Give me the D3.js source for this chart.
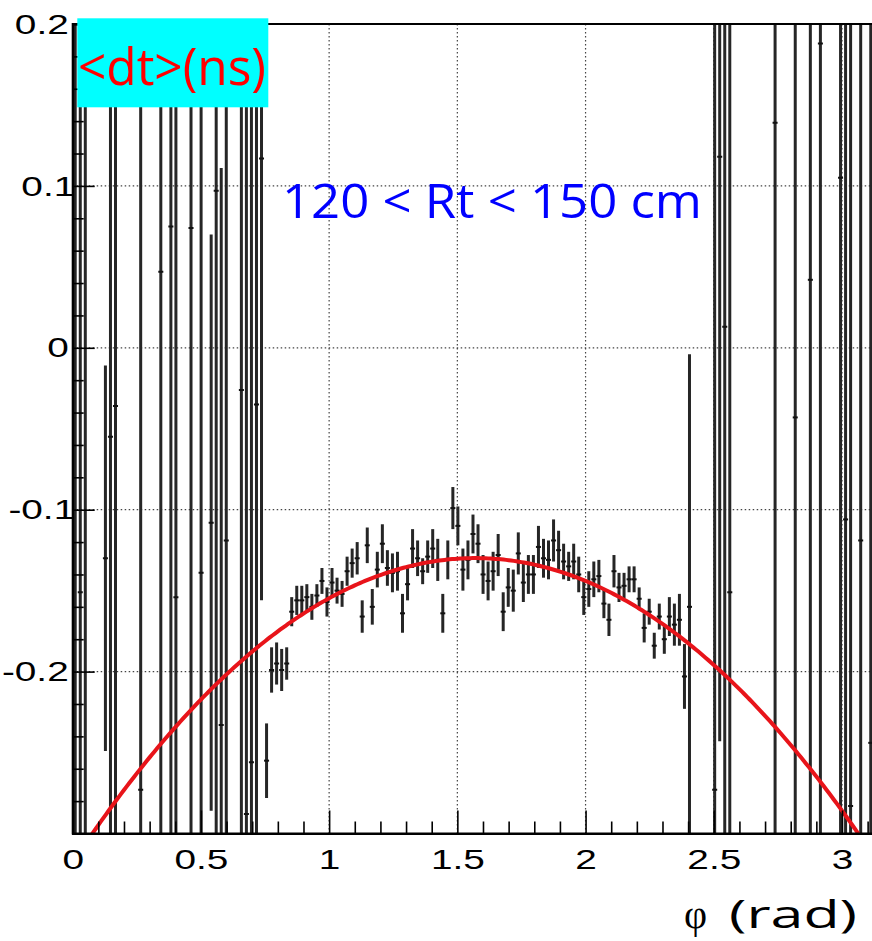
<!DOCTYPE html>
<html>
<head>
<meta charset="utf-8">
<script src="https://cdn.jsdelivr.net/npm/d3@7"></script>
<style>
  body { margin: 0; background: #fff; }
  svg { display: block; }
</style>
</head>
<body>
<svg id="chart" width="872" height="941"></svg>
<script>
// Profile of the mean time difference <dt> versus azimuth φ, 120 < Rt < 150 cm.
// Bin centres (rad), bin means (ns) and their errors (ns).
const phi = [
  0.0098, 0.0295, 0.0491, 0.1276, 0.1473, 0.1669, 0.2651, 0.3436, 0.3829, 0.4025,
  0.4614, 0.5007, 0.5400, 0.5596, 0.5792, 0.5989, 0.6578, 0.6774, 0.6970, 0.7167,
  0.7363, 0.7560,
  0.7756, 0.7952, 0.8149, 0.8345, 0.8541, 0.8738, 0.8934, 0.9131, 0.9327, 0.9523,
  0.9720, 0.9916, 1.0112, 1.0309, 1.0505, 1.0701, 1.0898, 1.1094, 1.1290, 1.1487,
  1.1683, 1.1879, 1.2076, 1.2272, 1.2469, 1.2665, 1.2861, 1.3058, 1.3254, 1.3450,
  1.3647, 1.3843, 1.4039, 1.4236, 1.4432, 1.4628, 1.4825, 1.5021, 1.5217, 1.5414,
  1.5610, 1.5806, 1.6003, 1.6199, 1.6395, 1.6592, 1.6788, 1.6985, 1.7181, 1.7377,
  1.7574, 1.7770, 1.7966, 1.8163, 1.8359, 1.8555, 1.8752, 1.8948, 1.9144, 1.9341,
  1.9537, 1.9733, 1.9930, 2.0126, 2.0322, 2.0519, 2.0715, 2.0912, 2.1108, 2.1304,
  2.1501, 2.1697, 2.1893, 2.2090, 2.2286, 2.2482, 2.2679, 2.2875, 2.3071, 2.3268,
  2.3464, 2.3660, 2.3857, 2.4053,
  2.5035, 2.5231, 2.5428, 2.5624, 2.7391, 2.8177, 2.8766, 2.9158, 2.9944, 3.0140,
  3.0336, 3.0729, 3.1122
];
const dt = [
  0.300, -0.151, -0.450, -0.130, -0.055, -0.036, -0.273, 0.047, 0.075, -0.154,
  0.074, -0.139, -0.108, 0.097, -0.233, -0.119, -0.026, -0.288, -0.256, -0.035,
  0.117, -0.255,
  -0.199, -0.195, -0.199, -0.195, -0.163, -0.156, -0.156, -0.154, -0.160, -0.153,
  -0.144, -0.157, -0.145, -0.150, -0.152, -0.138, -0.133, -0.130, -0.166, -0.122,
  -0.160, -0.137, -0.121, -0.136, -0.139, -0.138, -0.164, -0.146, -0.124, -0.130,
  -0.138, -0.129, -0.124, -0.131, -0.164, -0.131, -0.099, -0.110, -0.137, -0.131,
  -0.115, -0.121, -0.140, -0.144, -0.138, -0.128, -0.163, -0.148, -0.150, -0.127,
  -0.145, -0.140, -0.140, -0.123, -0.130, -0.131, -0.119, -0.125, -0.132, -0.135,
  -0.132, -0.140, -0.154, -0.149, -0.143, -0.141, -0.158, -0.168, -0.138, -0.148,
  -0.147, -0.143, -0.143, -0.155, -0.173, -0.163, -0.184, -0.166, -0.180, -0.166,
  -0.171, -0.168, -0.203, -0.160,
  -0.273, 0.118, 0.013, -0.151, 0.139, -0.043, 0.042, 0.188, 0.105, -0.106,
  -0.283, -0.119, -0.244
];
const dtErr = [
  0.800, 0.600, 0.800, 0.119, 0.500, 0.500, 0.600, 0.500, 0.500, 0.500,
  0.500, 0.500, 0.178, 0.500, 0.344, 0.500, 0.500, 0.500, 0.500, 0.500,
  0.273, 0.023,
  0.014, 0.013, 0.013, 0.010, 0.009, 0.009, 0.009, 0.008, 0.008, 0.007,
  0.008, 0.009, 0.009, 0.008, 0.008, 0.009, 0.009, 0.010, 0.010, 0.011,
  0.011, 0.011, 0.012, 0.011, 0.012, 0.012, 0.012, 0.010, 0.012, 0.011,
  0.008, 0.010, 0.012, 0.013, 0.012, 0.012, 0.013, 0.012, 0.013, 0.012,
  0.012, 0.012, 0.012, 0.012, 0.012, 0.013, 0.012, 0.012, 0.013, 0.013,
  0.012, 0.012, 0.012, 0.013, 0.012, 0.012, 0.013, 0.012, 0.011, 0.009,
  0.011, 0.011, 0.011, 0.011, 0.011, 0.010, 0.009, 0.010, 0.010, 0.009,
  0.008, 0.008, 0.008, 0.007, 0.009, 0.008, 0.008, 0.008, 0.009, 0.012,
  0.013, 0.016, 0.020, 0.156,
  0.600, 0.361, 0.500, 0.500, 0.500, 0.500, 0.500, 0.500, 0.600, 0.600,
  0.600, 0.600, 0.600
];
// 160 bins over [0, π]
const binWidth = Math.PI / 160;
// second-order polynomial fit: p0 + p1·φ + p2·φ²
const fitParams = [-0.318, 0.2396, -0.0763];

const xTicks = [0, 0.5, 1, 1.5, 2, 2.5, 3];
const xTickLabels = ["0", "0.5", "1", "1.5", "2", "2.5", "3"];
const yTicks = [-0.2, -0.1, 0, 0.1, 0.2];
const yTickLabels = ["-0.2", "-0.1", "0", "0.1", "0.2"];

const W = 872, H = 941;
const frame = { left: 72.7, right: 878.3, top: 24, bottom: 833.5 };

const x = d3.scaleLinear().domain([0, Math.PI]).range([frame.left, frame.right]);
const y = d3.scaleLinear().domain([-0.3, 0.2]).range([frame.bottom, frame.top]);

const svg = d3.select("#chart");
svg.append("rect").attr("width", W).attr("height", H).attr("fill", "#fff");

svg.append("defs").append("clipPath").attr("id", "plotArea")
  .append("rect")
  .attr("x", frame.left).attr("y", frame.top)
  .attr("width", frame.right - frame.left)
  .attr("height", frame.bottom - frame.top);

// dotted grid at the major ticks
const grid = svg.append("g")
  .attr("stroke", "#444").attr("stroke-width", 1.2)
  .attr("stroke-dasharray", "1.5,2.5");
grid.selectAll("line.gx").data(xTicks.filter(d => d > 0)).join("line")
  .attr("class", "gx")
  .attr("x1", d => x(d)).attr("x2", d => x(d))
  .attr("y1", frame.top).attr("y2", frame.bottom);
grid.selectAll("line.gy").data(yTicks).join("line")
  .attr("class", "gy")
  .attr("x1", frame.left).attr("x2", frame.right)
  .attr("y1", d => y(d)).attr("y2", d => y(d));

// profile points with error bars
const bins = phi.map((p, i) => ({ p, v: dt[i], e: dtErr[i] }));
const pts = svg.append("g").attr("clip-path", "url(#plotArea)");
pts.selectAll("line.err").data(bins).join("line")
  .attr("class", "err")
  .attr("x1", d => x(d.p)).attr("x2", d => x(d.p))
  .attr("y1", d => y(d.v - d.e)).attr("y2", d => y(d.v + d.e))
  .attr("stroke", "#262626").attr("stroke-width", 3);
pts.selectAll("line.bin").data(bins).join("line")
  .attr("class", "bin")
  .attr("x1", d => x(d.p - binWidth / 2)).attr("x2", d => x(d.p + binWidth / 2))
  .attr("y1", d => y(d.v)).attr("y2", d => y(d.v))
  .attr("stroke", "#111").attr("stroke-width", 2);

// fitted curve
const fit = p => fitParams[0] + fitParams[1] * p + fitParams[2] * p * p;
const curvePhi = d3.range(0, Math.PI + 0.005, 0.01);
svg.append("g").attr("clip-path", "url(#plotArea)")
  .append("path")
  .datum(curvePhi)
  .attr("fill", "none")
  .attr("stroke", "#e8141a")
  .attr("stroke-width", 4)
  .attr("d", d3.line().x(d => x(d)).y(d => y(fit(d))));

// frame
svg.append("rect")
  .attr("x", frame.left).attr("y", frame.top)
  .attr("width", frame.right - frame.left)
  .attr("height", frame.bottom - frame.top)
  .attr("fill", "none").attr("stroke", "#000").attr("stroke-width", 2);

// axes: ticks drawn inward as in ROOT
const labelFont = "'Liberation Sans', Arial, sans-serif";
const stretch = 1.36;

const yMinor = d3.range(-15, 11).map(i => i * 0.02).filter(v => Math.abs(v * 10 - Math.round(v * 10)) > 1e-6);
const xMinor = d3.range(0, 32).map(i => i * 0.1).filter(v => Math.abs(v * 2 - Math.round(v * 2)) > 1e-6);

const yAxisG = svg.append("g").attr("transform", `translate(${frame.left},0)`)
  .call(d3.axisLeft(y).tickValues(yTicks)
    .tickFormat((d, i) => yTickLabels[i]).tickSize(-22).tickPadding(4));
svg.append("g").attr("transform", `translate(${frame.left},0)`)
  .call(d3.axisLeft(y).tickValues(yMinor).tickFormat("").tickSize(-11))
  .call(g => g.select(".domain").remove());

const xAxisG = svg.append("g").attr("transform", `translate(0,${frame.bottom})`)
  .call(d3.axisBottom(x).tickValues(xTicks)
    .tickFormat((d, i) => xTickLabels[i]).tickSize(-23).tickPadding(15));
svg.append("g").attr("transform", `translate(0,${frame.bottom})`)
  .call(d3.axisBottom(x).tickValues(xMinor).tickFormat("").tickSize(-12))
  .call(g => g.select(".domain").remove());

svg.selectAll(".tick line").attr("stroke", "#000").attr("stroke-width", 1.6);
[yAxisG, xAxisG].forEach(g => {
  g.select(".domain").attr("stroke", "#000").attr("stroke-width", 2);
  g.selectAll(".tick text")
    .attr("font-family", labelFont)
    .attr("font-size", 28.5)
    .attr("fill", "#000")
    .each(function () {
      const w = this.getComputedTextLength();
      this.setAttribute("textLength", w * stretch);
      this.setAttribute("lengthAdjust", "spacingAndGlyphs");
    });
});
// labels are aligned on their ink box, so a trailing narrow "1" sits further right
yAxisG.selectAll(".tick text")
  .filter(function () { return this.textContent.endsWith("1"); })
  .attr("dx", 6.5);

// title box
svg.append("rect")
  .attr("x", 77.3).attr("y", 18.3).attr("width", 191).attr("height", 89)
  .attr("fill", "#00ffff");
svg.append("text")
  .attr("x", 78).attr("y", 85)
  .attr("font-family", "'Open Sans', 'DejaVu Sans', sans-serif")
  .attr("font-size", 52)
  .attr("fill", "#ff0000")
  .attr("textLength", 188).attr("lengthAdjust", "spacingAndGlyphs")
  .text("<dt>(ns)");

svg.append("text")
  .attr("x", 282).attr("y", 218)
  .attr("font-family", "'Open Sans', 'DejaVu Sans', sans-serif")
  .attr("font-size", 48)
  .attr("fill", "#0000ff")
  .attr("textLength", 420).attr("lengthAdjust", "spacingAndGlyphs")
  .text("120 < Rt < 150 cm");

// x-axis title
svg.append("text")
  .attr("x", 684).attr("y", 928)
  .attr("font-family", "'Liberation Serif', 'DejaVu Serif', serif")
  .attr("font-size", 40)
  .attr("fill", "#000")
  .text("φ");
svg.append("text")
  .attr("x", 729).attr("y", 928)
  .attr("font-family", "'Open Sans', 'DejaVu Sans', sans-serif")
  .attr("font-size", 38)
  .attr("fill", "#000")
  .attr("textLength", 128).attr("lengthAdjust", "spacingAndGlyphs")
  .text("(rad)");
</script>
</body>
</html>
